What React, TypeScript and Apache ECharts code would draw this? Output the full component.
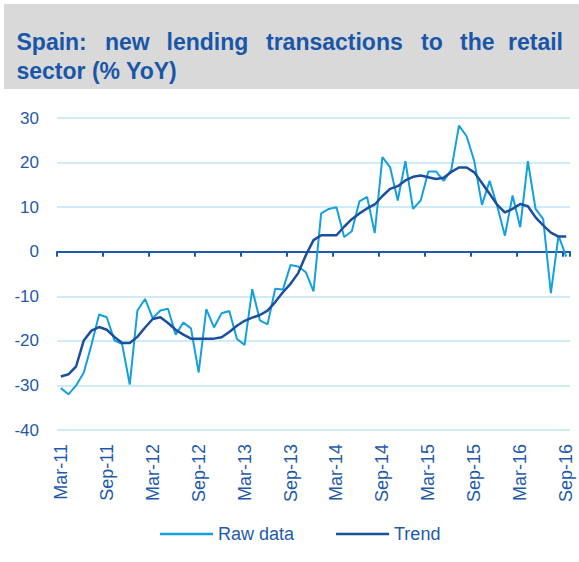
import React, { useEffect, useRef } from "react";
import * as echarts from "echarts";

const categories = [
  "Mar-11", "Apr-11", "May-11", "Jun-11", "Jul-11", "Aug-11", "Sep-11", "Oct-11", "Nov-11", "Dec-11",
  "Jan-12", "Feb-12", "Mar-12", "Apr-12", "May-12", "Jun-12", "Jul-12", "Aug-12", "Sep-12", "Oct-12",
  "Nov-12", "Dec-12", "Jan-13", "Feb-13", "Mar-13", "Apr-13", "May-13", "Jun-13", "Jul-13", "Aug-13",
  "Sep-13", "Oct-13", "Nov-13", "Dec-13", "Jan-14", "Feb-14", "Mar-14", "Apr-14", "May-14", "Jun-14",
  "Jul-14", "Aug-14", "Sep-14", "Oct-14", "Nov-14", "Dec-14", "Jan-15", "Feb-15", "Mar-15", "Apr-15",
  "May-15", "Jun-15", "Jul-15", "Aug-15", "Sep-15", "Oct-15", "Nov-15", "Dec-15", "Jan-16", "Feb-16",
  "Mar-16", "Apr-16", "May-16", "Jun-16", "Jul-16", "Aug-16", "Sep-16",
];

const rawData = [
  -30.6, -32.0, -30.0, -27.1, -20.9, -14.1, -14.7, -19.9, -20.7, -29.8,
  -13.2, -10.6, -14.9, -13.2, -12.8, -18.6, -15.9, -17.2, -27.1, -12.9,
  -17.0, -13.8, -13.3, -19.6, -20.9, -8.4, -15.4, -16.3, -8.3, -8.5,
  -3.0, -3.3, -4.6, -8.9, 8.6, 9.6, 10.0, 3.3, 4.6, 11.3,
  12.3, 4.2, 21.2, 19.0, 11.5, 20.3, 9.6, 11.5, 18.0, 18.0,
  15.9, 18.4, 28.3, 25.9, 20.3, 10.5, 15.9, 10.2, 3.6, 12.6,
  5.5, 20.3, 9.6, 7.3, -9.3, 3.6, -1.1,
];

const trendData = [
  -28.0, -27.5, -25.7, -19.9, -17.7, -16.9, -17.5, -19.1, -20.5, -20.5,
  -19.1, -17.0, -15.1, -14.7, -16.0, -17.5, -18.6, -19.5, -19.5, -19.5,
  -19.5, -19.2, -18.0, -16.6, -15.5, -14.8, -14.2, -13.2, -11.3, -9.1,
  -7.2, -4.8, -0.8, 2.6, 3.7, 3.7, 3.7, 5.6, 7.3, 8.6,
  9.7, 10.6, 12.5, 14.1, 14.7, 16.0, 16.8, 17.1, 16.7, 16.3,
  16.6, 17.9, 18.9, 18.9, 17.8, 15.4, 13.0, 10.5, 8.8, 9.6,
  10.7, 10.2, 7.7, 5.9, 4.3, 3.4, 3.4,
];

const yTicks = { min: -40, max: 30, interval: 10 };

const titleLine1Words = ["Spain:", "new", "lending", "transactions", "to", "the", "retail"];
const titleLine1X = [16.5, 105, 166.5, 266, 421, 460, 508];
const titleLine2 = "sector (% YoY)";

const FONT = "'Liberation Sans', Arial, Helvetica, sans-serif";
const TEXT_BLUE = "#1f5aaa";

export default function App() {
  const ref = useRef<HTMLDivElement>(null);

  useEffect(() => {
    if (!ref.current) return;
    const chart = echarts.init(ref.current, null, { renderer: "svg" });

    const titleTexts: any[] = titleLine1Words.map((w, i) => ({
      type: "text",
      x: titleLine1X[i],
      y: 41.5,
      style: {
        text: w,
        fill: "#1a56a8",
        font: `bold 23px ${FONT}`,
        verticalAlign: "middle",
        align: "left",
      },
    }));
    titleTexts.push({
      type: "text",
      x: 16.5,
      y: 71,
      style: {
        text: titleLine2,
        fill: "#1a56a8",
        font: `bold 23px ${FONT}`,
        verticalAlign: "middle",
        align: "left",
      },
    });

    chart.setOption({
      animation: false,
      backgroundColor: "#ffffff",
      graphic: [
        {
          type: "rect",
          shape: { x: 4, y: 4, width: 575, height: 85 },
          style: { fill: "#d9d9d9" },
          z: -1,
        },
        ...titleTexts,
      ],
      legend: {
        data: ["Raw data", "Trend"],
        left: 155,
        top: 520,
        icon: "rect",
        itemWidth: 53,
        itemHeight: 2.5,
        itemGap: 42,
        textStyle: { fontSize: 18, color: TEXT_BLUE, fontFamily: FONT },
      },
      grid: { left: 57, right: 9, top: 118, bottom: 132, containLabel: false },
      xAxis: [
        {
          type: "category",
          data: categories,
          boundaryGap: true,
          position: "bottom",
          axisLine: { show: true, onZero: true, lineStyle: { color: "#1f5aaa", width: 2 } },
          axisTick: { show: true, interval: 5, length: 5, lineStyle: { color: "#1f5aaa", width: 2 } },
          axisLabel: { show: false },
          splitLine: { show: false },
        },
        {
          type: "category",
          data: categories,
          boundaryGap: true,
          position: "bottom",
          axisLine: { show: false, onZero: false },
          axisTick: { show: false },
          axisLabel: {
            show: true,
            interval: 5,
            rotate: 90,
            margin: 14,
            fontSize: 18,
            color: TEXT_BLUE,
            fontFamily: FONT,
          },
          splitLine: { show: false },
        },
      ],
      yAxis: {
        type: "value",
        min: yTicks.min,
        max: yTicks.max,
        interval: yTicks.interval,
        axisLine: { show: false },
        axisTick: { show: false },
        axisLabel: { fontSize: 17, color: TEXT_BLUE, fontFamily: FONT, margin: 18 },
        splitLine: { show: true, lineStyle: { color: "#bfe5f6", width: 1.5 } },
      },
      series: [
        {
          name: "Raw data",
          type: "line",
          xAxisIndex: 0,
          data: rawData,
          symbol: "none",
          lineStyle: { color: "#14a0dd", width: 2 },
          itemStyle: { color: "#14a0dd" },
          z: 3,
        },
        {
          name: "Trend",
          type: "line",
          xAxisIndex: 0,
          data: trendData,
          symbol: "none",
          lineStyle: { color: "#1b4f9e", width: 2.5 },
          itemStyle: { color: "#1b4f9e" },
          z: 4,
        },
      ],
    });

    return () => chart.dispose();
  }, []);

  return <div ref={ref} style={{ width: 579, height: 562, position: "absolute", left: 0, top: 0 }} />;
}
